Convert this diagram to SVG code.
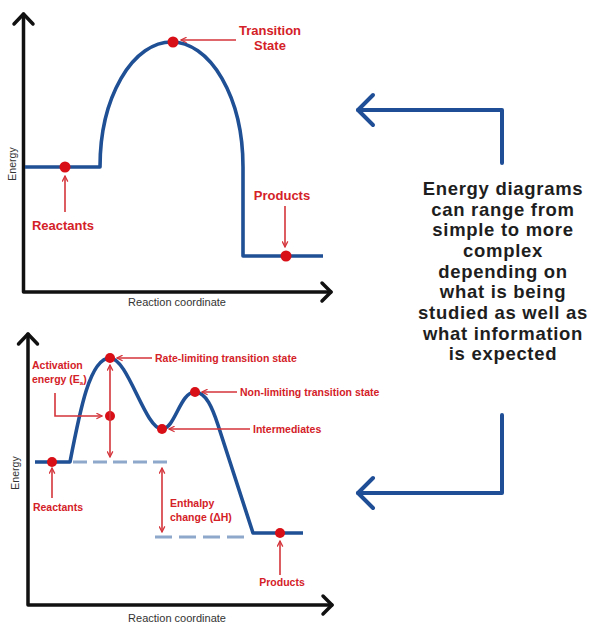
<svg xmlns="http://www.w3.org/2000/svg" width="592" height="624" viewBox="0 0 592 624">
  <defs>
    <style>
      .axis { fill: none; stroke: #111; stroke-width: 3.5; stroke-linecap: round; stroke-linejoin: round; }
      .curve { fill: none; stroke: #1f4f94; stroke-width: 3.6; stroke-linejoin: round; }
      .dash { fill: none; stroke: #8ea8cc; stroke-width: 3; }
      .ptr { fill: none; stroke: #d4343a; stroke-width: 1.6; marker-end: url(#tip); }
      .ptr2 { fill: none; stroke: #d4343a; stroke-width: 1.6; marker-start: url(#tip); marker-end: url(#tip); }
      .dot { fill: #d80f16; }
      .lbl { font-family: "Liberation Sans", Arial, sans-serif; font-weight: bold; fill: #d42128; }
      .ax { font-family: "Liberation Sans", Arial, sans-serif; fill: #333; }
      .note { font-family: "Liberation Sans", Arial, sans-serif; font-weight: bold; font-size: 18.5px; letter-spacing: 0.7px; fill: #1e1e1e; text-anchor: middle; }
      .big { fill: none; stroke: #1f4e97; stroke-width: 4; stroke-linejoin: round; stroke-linecap: round; }
    </style>
    <marker id="tip" viewBox="0 0 10 10" refX="9" refY="5" markerWidth="7" markerHeight="7" markerUnits="userSpaceOnUse" orient="auto-start-reverse">
      <path d="M1,1 L9,5 L1,9" fill="none" stroke="#d4343a" stroke-width="1.8"/>
    </marker>
  </defs>

  <!-- simple energy diagram -->
  <g id="top-axes">
    <path class="axis" d="M23.5,14 V292 H331"/>
    <path class="axis" d="M14,24 L23.5,14 L33,24"/>
    <path class="axis" d="M322,283 L331,292 L322,301"/>
    <text class="ax" font-size="10.5" transform="translate(16,164) rotate(-90)" text-anchor="middle">Energy</text>
    <text class="ax" font-size="11" x="177" y="306" text-anchor="middle">Reaction coordinate</text>
  </g>
  <g id="top-curve">
    <path class="curve" d="M25,167 H100 A71.5,125 0 0 1 243,167 V256 H323"/>
  </g>
  <g id="top-reactants">
    <circle class="dot" cx="65" cy="167" r="5.5"/>
    <text class="lbl" font-size="13" x="63" y="230" text-anchor="middle">Reactants</text>
  </g>
  <g id="top-transition-state">
    <circle class="dot" cx="173" cy="42" r="5.5"/>
    <text class="lbl" font-size="13" x="270" y="35" text-anchor="middle">Transition</text>
    <text class="lbl" font-size="13" x="270" y="50" text-anchor="middle">State</text>
  </g>
  <g id="top-products">
    <circle class="dot" cx="286" cy="256" r="5.5"/>
    <text class="lbl" font-size="13" x="282" y="200" text-anchor="middle">Products</text>
  </g>

  <!-- multi-step energy diagram -->
  <g id="bottom-axes">
    <path class="axis" d="M28,334 V605 H332"/>
    <path class="axis" d="M18.5,344 L28,334 L37.5,344"/>
    <path class="axis" d="M323,596 L332,605 L323,614"/>
    <text class="ax" font-size="10.5" transform="translate(19,473) rotate(-90)" text-anchor="middle">Energy</text>
    <text class="ax" font-size="11" x="177" y="622" text-anchor="middle">Reaction coordinate</text>
  </g>
  <g id="bottom-levels">
    <path class="dash" d="M73,462 H170" stroke-dasharray="14 6"/>
    <path class="dash" d="M155,537 H250" stroke-dasharray="17 7"/>
  </g>
  <g id="bottom-curve">
    <path class="curve" stroke-width="4" d="M35,462 H70 C80,410 90,358 110,358 C128,358 145,429 162,429 C175,429 180,392 195,392 C206,392 212.7,408.8 218,425 L253,533 H303"/>
  </g>
  <g id="bottom-reactants">
    <circle class="dot" cx="52" cy="462" r="5"/>
    <text class="lbl" font-size="10.5" x="58" y="511" text-anchor="middle">Reactants</text>
  </g>
  <g id="rate-limiting-ts">
    <circle class="dot" cx="110" cy="358" r="5"/>
    <text class="lbl" font-size="10.5" x="155" y="361.5">Rate-limiting transition state</text>
  </g>
  <g id="activation-energy">
    <circle class="dot" cx="110" cy="416" r="5"/>
    <text class="lbl" font-size="10.5" x="32" y="369">Activation</text>
    <text class="lbl" font-size="10.5" x="32" y="383">energy (E<tspan font-size="6" dy="2">a</tspan><tspan dy="-2">)</tspan></text>
  </g>
  <g id="intermediates">
    <circle class="dot" cx="162" cy="429" r="5"/>
    <text class="lbl" font-size="10.5" x="253" y="432.5">Intermediates</text>
  </g>
  <g id="non-limiting-ts">
    <circle class="dot" cx="195" cy="392" r="5"/>
    <text class="lbl" font-size="10.5" x="240" y="395.5">Non-limiting transition state</text>
  </g>
  <g id="enthalpy-change">
    <text class="lbl" font-size="10.5" x="170" y="507">Enthalpy</text>
    <text class="lbl" font-size="10.5" x="170" y="521">change (ΔH)</text>
  </g>
  <g id="bottom-products">
    <circle class="dot" cx="280" cy="533" r="5"/>
    <text class="lbl" font-size="10.5" x="282" y="586" text-anchor="middle">Products</text>
  </g>

  <!-- caption -->
  <g id="caption">
    <text class="note" x="503" y="195">Energy diagrams</text>
    <text class="note" x="503" y="215.5">can range from</text>
    <text class="note" x="503" y="236">simple to more</text>
    <text class="note" x="503" y="257">complex</text>
    <text class="note" x="503" y="277.5">depending on</text>
    <text class="note" x="503" y="298">what is being</text>
    <text class="note" x="503" y="319">studied as well as</text>
    <text class="note" x="503" y="339.5">what information</text>
    <text class="note" x="503" y="360">is expected</text>
  </g>

  <g id="connectors">
    <!-- label pointers, top diagram -->
    <path class="ptr" d="M236,40 H181"/>
    <path class="ptr" d="M65,212 V176"/>
    <path class="ptr" d="M285,206 V247"/>
    <!-- label pointers, bottom diagram -->
    <path class="ptr" d="M152,358 H117"/>
    <path class="ptr" d="M237,392 H202"/>
    <path class="ptr" d="M250,429 H169"/>
    <path class="ptr" d="M55,393 V416 H102"/>
    <path class="ptr" d="M52,498 V468"/>
    <path class="ptr" d="M280,575 V541"/>
    <path class="ptr2" d="M110,365 V457"/>
    <path class="ptr2" d="M162,468 V532"/>
    <!-- caption pointers -->
    <path class="big" d="M502,163 V110 H358"/>
    <path class="big" d="M373,95 L358,110 L373,125"/>
    <path class="big" d="M502,415 V493 H358"/>
    <path class="big" d="M373,478 L358,493 L373,508"/>
  </g>
</svg>
